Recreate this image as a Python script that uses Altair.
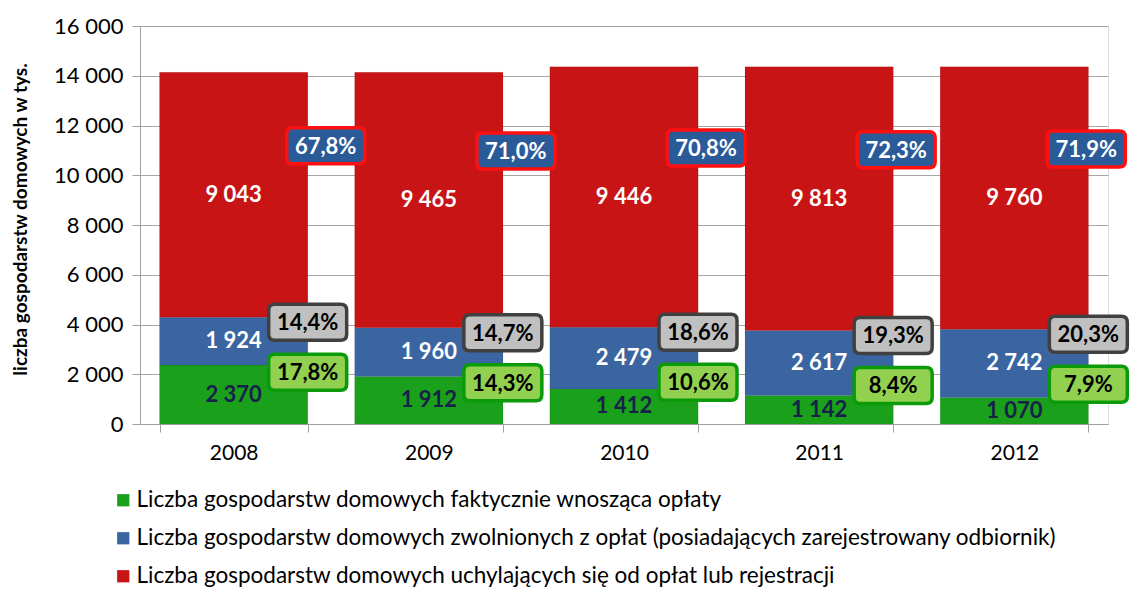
import altair as alt
import pandas as pd

# ---- data ----
years = ["2008", "2009", "2010", "2011", "2012"]
paying = [2370, 1912, 1412, 1142, 1070]          # green segment
exempt = [1924, 1960, 2479, 2617, 2742]          # blue segment
evading_labels = [9043, 9465, 9446, 9813, 9760]  # red label values
bar_total = [14140, 14140, 14360, 14360, 14360]  # drawn top of red bar
pct_paying = ["17,8%", "14,3%", "10,6%", "8,4%", "7,9%"]
pct_exempt = ["14,4%", "14,7%", "18,6%", "19,3%", "20,3%"]
pct_evading = ["67,8%", "71,0%", "70,8%", "72,3%", "71,9%"]
series = [
    "Liczba gospodarstw domowych faktycznie wnosząca opłaty",
    "Liczba gospodarstw domowych zwolnionych z opłat (posiadających zarejestrowany odbiornik)",
    "Liczba gospodarstw domowych uchylających się od opłat lub rejestracji",
]
colors = ["#1BA01B", "#3A65A0", "#C81414"]
y_ticks = [0, 2000, 4000, 6000, 8000, 10000, 12000, 14000, 16000]

FONT = "Lato"

# ---- tables ----
bars_rows, val_rows, red_rows, gray_rows, green_rows = [], [], [], [], []
for i, yr in enumerate(years):
    g0, g1 = 0, paying[i]
    b0, b1 = g1, g1 + exempt[i]
    r0, r1 = b1, bar_total[i]
    bars_rows += [
        dict(year=yr, series=series[0], y0=g0, y1=g1, order=0),
        dict(year=yr, series=series[1], y0=b0, y1=b1, order=1),
        dict(year=yr, series=series[2], y0=r0, y1=r1, order=2),
    ]
    val_rows += [
        dict(year=yr, v=paying[i], c=(g0 + g1) / 2, tc="#16224A"),
        dict(year=yr, v=exempt[i], c=(b0 + b1) / 2, tc="#FFFFFF"),
        dict(year=yr, v=evading_labels[i], c=(r0 + r1) / 2, tc="#FFFFFF"),
    ]
    red_rows.append(dict(year=yr, t=pct_evading[i], a=(r0 + r1) / 2))
    gray_rows.append(dict(year=yr, t=pct_exempt[i], a=b1))
    green_rows.append(dict(year=yr, t=pct_paying[i], a=b1))

bars_df = pd.DataFrame(bars_rows)
val_df = pd.DataFrame(val_rows)

xenc = alt.X(
    "year:N",
    title=None,
    scale=alt.Scale(paddingInner=0.24, paddingOuter=0.1),
    axis=alt.Axis(
        labelAngle=0, labelFont=FONT, labelFontSize=21, labelColor="#000000",
        labelPadding=10, tickBand="extent", tickSize=8, tickColor="#A0A0A0",
        domainColor="#A0A0A0", grid=False,
    ),
)

yscale = alt.Scale(domain=[0, 16000], nice=False)

bars = alt.Chart(bars_df).mark_bar(stroke="#00000022", strokeWidth=0.5).encode(
    x=xenc,
    y=alt.Y(
        "y0:Q",
        scale=yscale,
        title="liczba gospodarstw domowych w tys.",
        axis=alt.Axis(
            values=y_ticks,
            labelExpr="replace(format(datum.value, ',d'), ',', ' ')",
            labelFont=FONT, labelFontSize=22, labelColor="#000000", labelPadding=9,
            tickSize=8, tickColor="#A0A0A0", domainColor="#A0A0A0",
            gridColor="#A6A6A6", grid=True,
            titleFont=FONT, titleFontSize=19, titleFontWeight="bold",
            titleColor="#000000", titleX=-120, titleY=193,
            titleAlign="center", titleBaseline="middle", titleAngle=-90,
        ),
    ),
    y2="y1:Q",
    color=alt.Color(
        "series:N",
        scale=alt.Scale(domain=series, range=colors),
        legend=alt.Legend(
            title=None, orient="none", legendX=-28, legendY=463,
            direction="vertical", symbolType="square", symbolSize=150,
            symbolStrokeWidth=0, labelFont=FONT, labelFontSize=22.5,
            labelColor="#000000", labelLimit=2000, rowPadding=15, padding=0,
            labelOffset=2,
        ),
    ),
    order=alt.Order("order:Q"),
)

values = alt.Chart(val_df).transform_calculate(
    lbl="replace(format(datum.v, ',d'), ',', ' ')"
).mark_text(font=FONT, fontSize=22, fontWeight="bold", baseline="middle").encode(
    x=alt.X("year:N"),
    y=alt.Y("c:Q", scale=yscale),
    text="lbl:N",
    color=alt.Color("tc:N", scale=None),
)


def rounded_box(w, h, r):
    s = w / 2.0
    hx, hy, rr = 1.0, (h / 2.0) / s, r / s
    return (f"M {-hx + rr},{-hy} L {hx - rr},{-hy} Q {hx},{-hy} {hx},{-hy + rr} "
            f"L {hx},{hy - rr} Q {hx},{hy} {hx - rr},{hy} L {-hx + rr},{hy} "
            f"Q {-hx},{hy} {-hx},{hy - rr} L {-hx},{-hy + rr} Q {-hx},{-hy} {-hx + rr},{-hy} Z")


BOXW, BOXH = 78, 36
BOX = rounded_box(BOXW, BOXH, 6)


def boxes(df, fill, stroke, tcolor, dx, dy):
    base = alt.Chart(df).encode(
        x=alt.X("year:N"),
        y=alt.Y("a:Q", scale=yscale),
    )
    b = base.mark_point(
        shape=BOX, size=BOXW * BOXW, filled=True, fill=fill, stroke=stroke,
        strokeWidth=3.5, opacity=1, xOffset=dx, yOffset=dy,
    )
    t = base.mark_text(
        font=FONT, fontSize=22, fontWeight="bold", color=tcolor,
        baseline="middle", xOffset=dx, yOffset=dy + 1,
    ).encode(text="t:N")
    return [b, t]


layers = [bars, values]
red_df = pd.DataFrame(red_rows)
for i, yr in enumerate(years):
    # Excel placed these labels slightly closer to the bar for later years
    layers += boxes(red_df[red_df["year"] == yr], "#2B5A98", "#FF1010", "#FFFFFF",
                    92 - 5 * i, -49)
layers += boxes(pd.DataFrame(gray_rows), "#C0C0C0", "#404040", "#000000", 74, 5)
layers += boxes(pd.DataFrame(green_rows), "#92D050", "#0A9A0A", "#000000", 74, 55)

chart = alt.layer(*layers).properties(
    width=968,
    height=398,
    autosize=alt.AutoSizeParams(type="none"),
    padding={"left": 132, "top": 18, "right": 22, "bottom": 167},
).configure_view(stroke=None).configure(background="#FFFFFF")

chart.save("out.html", embed_options={"renderer": "svg", "actions": False})
